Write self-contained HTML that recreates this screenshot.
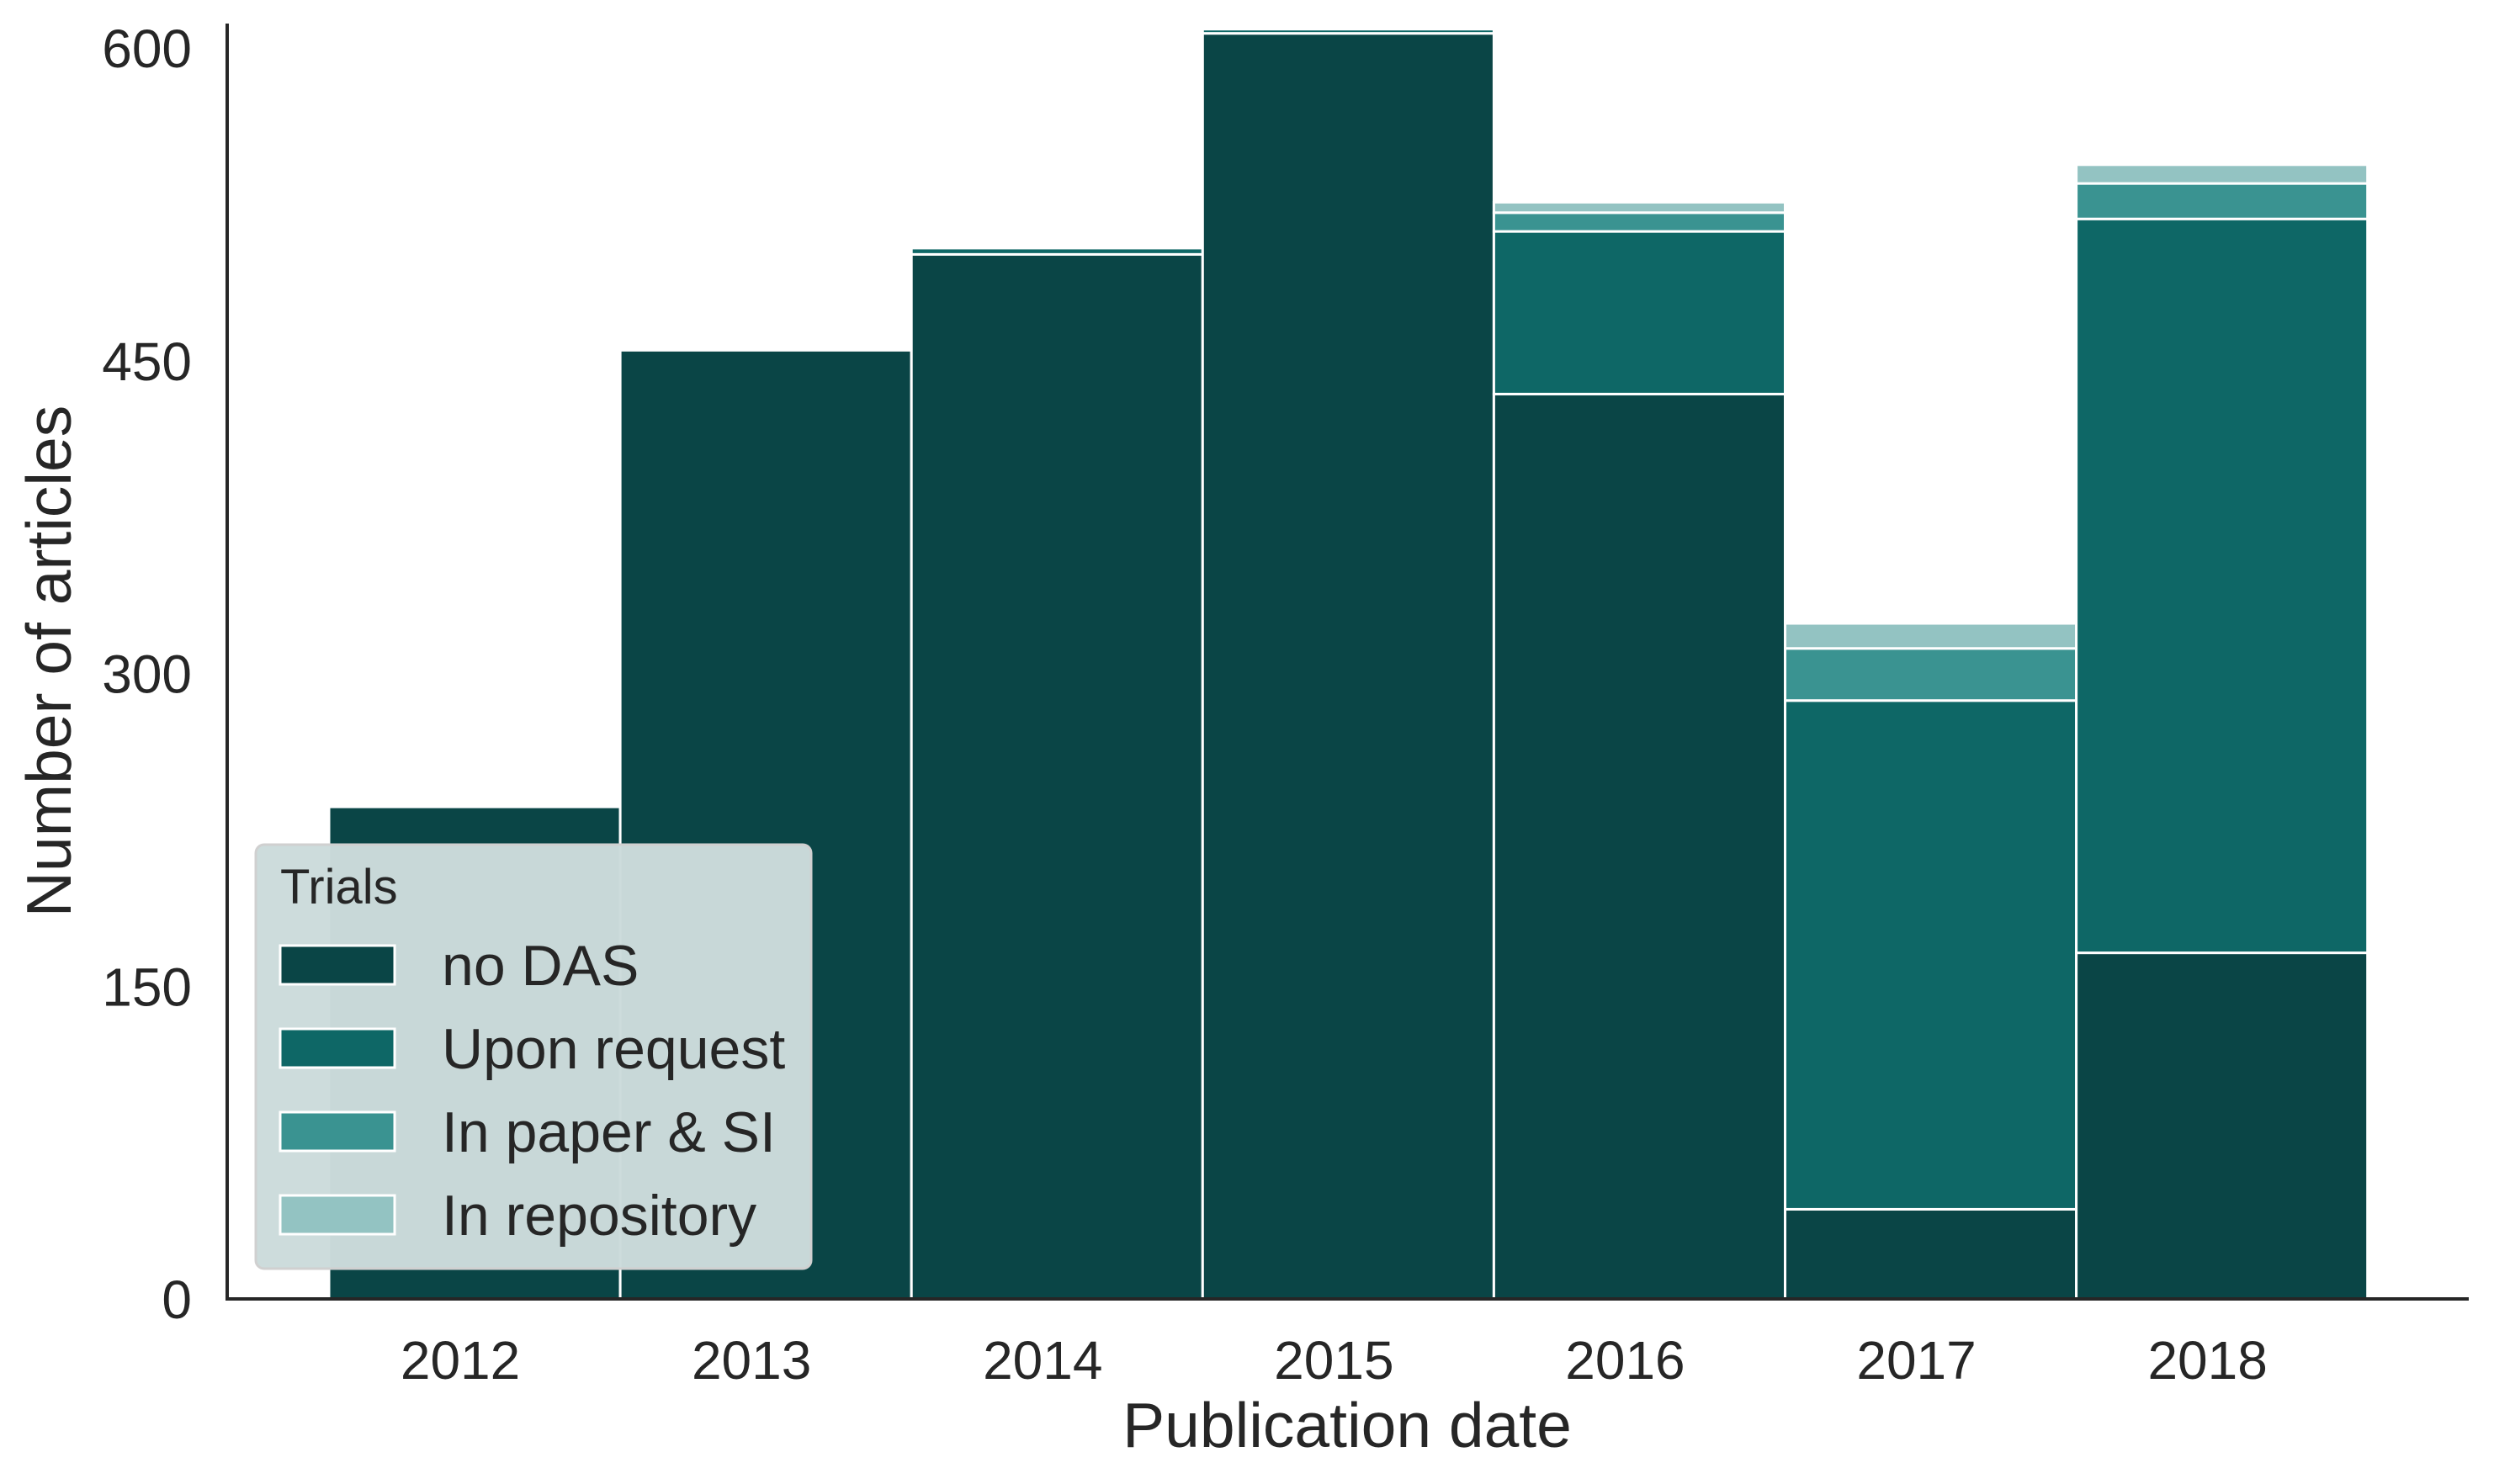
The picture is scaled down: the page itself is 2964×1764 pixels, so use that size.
<!DOCTYPE html>
<html><head><meta charset="utf-8"><style>
html,body{margin:0;padding:0;background:#fff;}
svg{display:block;font-family:"Liberation Sans",Arial,sans-serif;}
</style></head><body>
<svg id="chart" width="2964" height="1764" viewBox="0 0 2964 1764">
<g id="bars"></g>
<line x1="270" y1="28" x2="270" y2="1544" stroke="#262626" stroke-width="4"/>
<line x1="268" y1="1544" x2="2934" y2="1544" stroke="#262626" stroke-width="4"/>
<g id="yticks"></g>
<g id="xticks"></g>
<text x="1601" y="1720" font-size="75" fill="#262626" text-anchor="middle">Publication date</text>
<text transform="translate(84,786) rotate(-90)" font-size="75" fill="#262626" text-anchor="middle">Number of articles</text>
<g id="legend">
<rect x="304" y="1004" width="660" height="504" rx="10" fill="#ccdbdb" fill-opacity="0.98" stroke="#d0d0d0" stroke-width="3"/>
<text x="333" y="1074" font-size="58" fill="#262626">Trials</text>
</g>
</svg>
<script>
const years = ["2012","2013","2014","2015","2016","2017","2018"];
const noDAS = [236, 455, 501, 607, 434, 43, 166];
const uponRequest = [0, 0, 3, 2, 78, 244, 352];
const inPaper = [0, 0, 0, 0, 9, 25, 17];
const inRepository = [0, 0, 0, 0, 5, 12, 9];
const seriesNames = ["no DAS","Upon request","In paper & SI","In repository"];
const yTicks = [0, 150, 300, 450, 600];

const colors = ["#0a4546","#0e6766","#3a9391","#93c3c2"];
const series = [noDAS, uponRequest, inPaper, inRepository];
const NS = "http://www.w3.org/2000/svg";
const y0 = 1544, pxPerUnit = (1544 - 57) / 600;
const xLeft = 391, binW = 346.1;
function yScale(v){ return y0 - v * pxPerUnit; }
function xScale(i){ return xLeft + i * binW; }

const barsG = document.getElementById('bars');
years.forEach((yr, i) => {
  let base = 0;
  series.forEach((s, k) => {
    const v = s[i];
    if (v <= 0) { return; }
    const r = document.createElementNS(NS, 'rect');
    r.setAttribute('x', xScale(i));
    r.setAttribute('width', binW);
    r.setAttribute('y', yScale(base + v));
    r.setAttribute('height', yScale(base) - yScale(base + v));
    r.setAttribute('fill', colors[k]);
    r.setAttribute('stroke', '#fff');
    r.setAttribute('stroke-width', '3');
    
    
    barsG.appendChild(r);
    base += v;
  });
});

const yt = document.getElementById('yticks');
yTicks.forEach(t => {
  const e = document.createElementNS(NS, 'text');
  e.setAttribute('x', 228);
  e.setAttribute('y', yScale(t) + 23);
  e.setAttribute('font-size', '64');
  e.setAttribute('fill', '#262626');
  e.setAttribute('text-anchor', 'end');
  e.textContent = t;
  
  
  yt.appendChild(e);
});

const xt = document.getElementById('xticks');
years.forEach((yr, i) => {
  const e = document.createElementNS(NS, 'text');
  e.setAttribute('x', xScale(i) + binW / 2 - 17);
  e.setAttribute('y', 1639);
  e.setAttribute('font-size', '64');
  e.setAttribute('fill', '#262626');
  e.setAttribute('text-anchor', 'middle');
  e.textContent = yr;
  
  
  xt.appendChild(e);
});

const lg = document.getElementById('legend');
seriesNames.forEach((n, k) => {
  const cy = 1147 + k * 99;
  const r = document.createElementNS(NS, 'rect');
  r.setAttribute('x', 333);
  r.setAttribute('y', cy - 23);
  r.setAttribute('width', 136);
  r.setAttribute('height', 46);
  r.setAttribute('fill', colors[k]);
  r.setAttribute('stroke', '#fff');
  r.setAttribute('stroke-width', '3');
  
  
  lg.appendChild(r);
  const t = document.createElementNS(NS, 'text');
  t.setAttribute('x', 525);
  t.setAttribute('y', cy + 24);
  t.setAttribute('font-size', '68');
  t.setAttribute('fill', '#262626');
  t.textContent = n;
  
  
  lg.appendChild(t);
});
</script>
</body></html>
